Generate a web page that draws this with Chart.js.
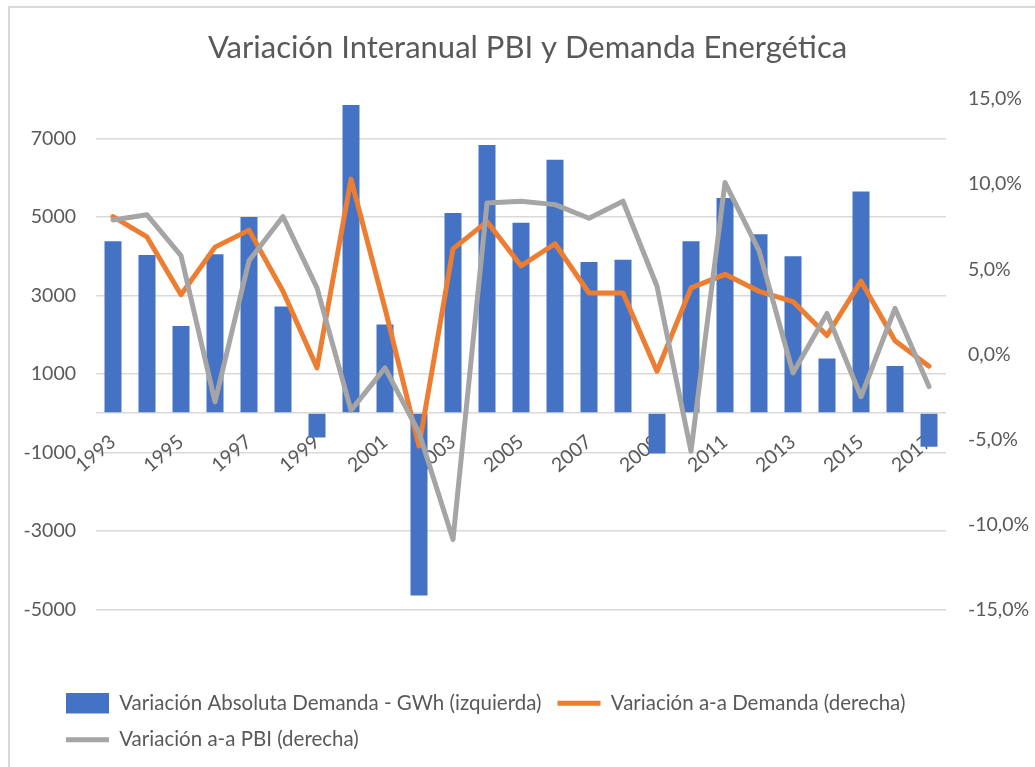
<!DOCTYPE html>
<html>
<head>
<meta charset="utf-8">
<script src="https://cdn.jsdelivr.net/npm/chart.js@4.4.0/dist/chart.umd.min.js"></script>
<style>
  html, body { margin: 0; padding: 0; background: #fff; overflow: hidden; }
  #wrap { position: relative; width: 1035px; height: 767px; }
  #frame { position: absolute; left: 8px; top: 6px; width: 1100px; height: 800px; border: 2px solid #d9d9d9; }
  canvas { position: absolute; left: 0; top: 0; }
</style>
</head>
<body>
<div id="wrap">
  <div id="frame"></div>
  <canvas id="chart" width="1035" height="767"></canvas>
</div>
<script>
const years = ['1993', '1994', '1995', '1996', '1997', '1998', '1999', '2000', '2001', '2002', '2003', '2004', '2005',
  '2006', '2007', '2008', '2009', '2010', '2011', '2012', '2013', '2014', '2015', '2016', '2017'];

// variacion absoluta de la demanda, GWh (eje izquierdo)
const demandaGWh = [4380, 4030, 2220, 4050, 5000, 2720, -620, 7850, 2260, -4650, 5100, 6830, 4850,
  6460, 3850, 3910, -1030, 4380, 5480, 4560, 4000, 1390, 5650, 1200, -860];

// variaciones interanuales en % (eje derecho)
const demandaPct = [8.1, 6.9, 3.5, 6.3, 7.3, 3.7, -0.8, 10.3, 2.7, -5.4, 6.2, 7.8, 5.2,
  6.5, 3.6, 3.6, -1.0, 3.9, 4.7, 3.7, 3.1, 1.1, 4.3, 0.8, -0.7];
const pbiPct = [7.9, 8.2, 5.8, -2.8, 5.5, 8.1, 3.9, -3.3, -0.8, -4.6, -10.9, 8.9, 9.0,
  8.8, 8.0, 9.0, 4.0, -5.7, 10.1, 6.1, -1.1, 2.4, -2.5, 2.7, -1.9];

const leftTicks = [-5000, -3000, -1000, 0, 1000, 3000, 5000, 7000];
const rightTicks = [-15, -10, -5, 0, 5, 10, 15];

const seriesNames = ['Variación Absoluta Demanda - GWh (izquierda)', 'Variación a-a Demanda (derecha)', 'Variación a-a PBI (derecha)'];
const seriesColors = ['#4472C4', '#ED7D31', '#A5A5A5'];

const textColor = '#595959';
const gridColor = '#d9d9d9';
const tickFont = { family: 'Lato, sans-serif', size: 19.5 };

// the legend starts further right than the plot padding allows
const legendShift = {
  id: 'legendShift',
  afterLayout(chart) {
    chart.legend.left = 50;
  }
};

new Chart(document.getElementById('chart'), {
  data: {
    labels: years,
    datasets: [
      {
        type: 'bar',
        label: seriesNames[0],
        data: demandaGWh,
        backgroundColor: seriesColors[0],
        yAxisID: 'y',
        barPercentage: 0.5,
        categoryPercentage: 1.0,
        order: 3
      },
      {
        type: 'line',
        label: seriesNames[1],
        data: demandaPct,
        borderColor: seriesColors[1],
        backgroundColor: seriesColors[1],
        borderWidth: 5,
        pointRadius: 0,
        tension: 0,
        borderCapStyle: 'round',
        borderJoinStyle: 'round',
        yAxisID: 'y1',
        order: 2
      },
      {
        type: 'line',
        label: seriesNames[2],
        data: pbiPct,
        borderColor: seriesColors[2],
        backgroundColor: seriesColors[2],
        borderWidth: 5,
        pointRadius: 0,
        tension: 0,
        borderCapStyle: 'round',
        borderJoinStyle: 'round',
        yAxisID: 'y1',
        order: 1
      }
    ]
  },
  options: {
    responsive: false,
    animation: false,
    layout: { padding: { left: 20, right: 0, top: 0, bottom: 7 } },
    plugins: {
      tooltip: { enabled: false },
      title: {
        display: true,
        text: 'Variación Interanual PBI y Demanda Energética',
        color: textColor,
        font: { family: 'Lato, sans-serif', size: 31, weight: 'normal' },
        padding: { top: 29, bottom: 33 }
      },
      legend: {
        position: 'bottom',
        align: 'start',
        title: { display: true, text: '', font: { size: 1 }, padding: { top: 66.5, bottom: 0 } },
        labels: {
          color: textColor,
          font: { family: 'Lato, sans-serif', size: 20.5 },
          usePointStyle: true,
          pointStyleWidth: 43,
          padding: 16,
          generateLabels: () => seriesNames.map((name, i) => ({
            text: name,
            fillStyle: seriesColors[i],
            strokeStyle: seriesColors[i],
            lineWidth: i === 0 ? 0 : 5,
            pointStyle: i === 0 ? 'rect' : 'line',
            fontColor: textColor,
            datasetIndex: i
          }))
        }
      }
    },
    scales: {
      x: {
        position: { y: 0 },
        z: 1,
        grid: { display: false, drawTicks: false },
        border: { display: false },
        ticks: {
          autoSkip: false,
          minRotation: 40,
          maxRotation: 40,
          padding: 17,
          color: textColor,
          font: tickFont,
          callback: function (v, i) { return i % 2 === 0 ? this.getLabelForValue(v) : ''; }
        }
      },
      y: {
        position: 'left',
        min: -5000,
        max: 8000,
        afterBuildTicks: s => { s.ticks = leftTicks.map(v => ({ value: v })); },
        afterFit: s => { s.width = 76; },
        grid: { color: gridColor, lineWidth: 1.5, drawTicks: false },
        border: { display: false },
        ticks: {
          padding: 20,
          color: textColor,
          font: tickFont,
          callback: v => (v === 0 ? '' : String(v))
        }
      },
      y1: {
        position: 'right',
        min: -15,
        max: 15,
        afterBuildTicks: s => { s.ticks = rightTicks.map(v => ({ value: v })); },
        afterFit: s => { s.width = 89; },
        grid: { display: false, drawTicks: false },
        border: { display: false },
        ticks: {
          padding: 22,
          color: textColor,
          font: tickFont,
          callback: v => v.toFixed(1).replace('.', ',') + '%'
        }
      }
    }
  },
  plugins: [legendShift]
});
</script>
</body>
</html>
